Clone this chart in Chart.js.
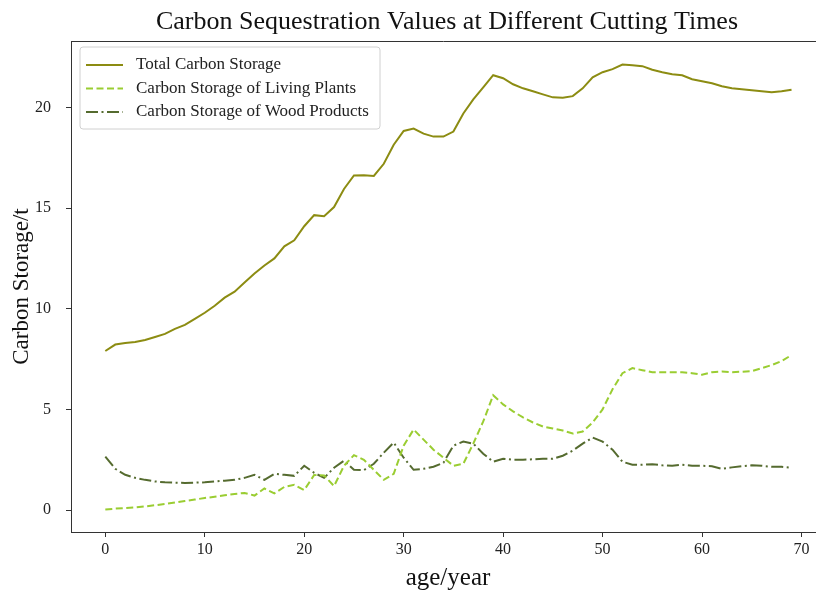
<!DOCTYPE html>
<html>
<head>
<meta charset="utf-8">
<script src="https://cdn.jsdelivr.net/npm/chart.js@4/dist/chart.umd.min.js"></script>
<style>
html,body{margin:0;padding:0;background:#fff;}
#wrap{width:816px;height:592px;position:relative;}
</style>
</head>
<body>
<div id="wrap"><canvas id="c" width="816" height="592"></canvas></div>
<script>
const ages = Array.from({length:70},(_,i)=>i);
const totalStorage = [7.9,8.22,8.3,8.35,8.45,8.6,8.75,9.0,9.2,9.5,9.8,10.15,10.55,10.85,11.3,11.75,12.15,12.5,13.1,13.4,14.1,14.65,14.6,15.05,15.95,16.62,16.63,16.6,17.2,18.15,18.83,18.95,18.7,18.55,18.55,18.8,19.7,20.4,21.0,21.6,21.45,21.15,20.95,20.8,20.65,20.5,20.48,20.56,20.95,21.5,21.75,21.9,22.13,22.1,22.05,21.87,21.75,21.65,21.6,21.4,21.3,21.2,21.05,20.95,20.9,20.85,20.8,20.76,20.8,20.88];
const livingPlants = [0.03,0.07,0.1,0.13,0.18,0.24,0.3,0.38,0.45,0.52,0.6,0.66,0.73,0.8,0.85,0.72,1.07,0.83,1.15,1.25,0.99,1.74,1.72,1.19,2.2,2.73,2.5,2.0,1.5,1.8,3.2,4.0,3.5,3.0,2.6,2.2,2.3,3.3,4.4,5.7,5.25,4.9,4.6,4.35,4.15,4.05,3.95,3.8,3.9,4.35,5.0,6.0,6.8,7.05,6.95,6.85,6.85,6.85,6.85,6.8,6.72,6.85,6.88,6.85,6.87,6.9,7.05,7.2,7.4,7.7];
const woodProducts = [2.65,2.05,1.75,1.6,1.5,1.42,1.38,1.36,1.35,1.36,1.38,1.42,1.46,1.5,1.6,1.75,1.5,1.8,1.75,1.7,2.2,1.85,1.6,2.1,2.45,2.0,1.98,2.3,2.85,3.35,2.6,2.0,2.05,2.15,2.35,3.2,3.4,3.3,2.8,2.4,2.55,2.5,2.5,2.52,2.55,2.55,2.7,2.95,3.3,3.6,3.4,3.0,2.4,2.25,2.25,2.28,2.22,2.2,2.25,2.2,2.2,2.18,2.05,2.12,2.18,2.22,2.2,2.15,2.15,2.1];
const seriesNames = ['Total Carbon Storage','Carbon Storage of Living Plants','Carbon Storage of Wood Products'];
const xTicks = [0,10,20,30,40,50,60,70];
const yTicks = [0,5,10,15,20];
const chartTitle = 'Carbon Sequestration Values at Different Cutting Times';
const xTitle = 'age/year';
const yTitle = 'Carbon Storage/t';

const SERIF = '"Liberation Serif","Times New Roman",serif';
const toPts = arr => arr.map((v,i)=>({x:ages[i],y:v}));

const textPlugin = {
  id:'texts',
  afterDraw(chart){
    const ctx = chart.ctx;
    ctx.save();
    ctx.fillStyle='#111';
    ctx.textAlign='center';
    ctx.textBaseline='middle';
    ctx.font='26px '+SERIF;
    ctx.fillText(chartTitle,447,22);
    ctx.font='25px '+SERIF;
    ctx.fillText(xTitle,448,578);
    ctx.restore();
  }
};
const legendPlugin = {
  id:'innerLegend',
  afterDraw(chart){
    const ctx = chart.ctx;
    const x0=80, y0=47, w=300, h=82;
    ctx.save();
    ctx.fillStyle='rgba(255,255,255,0.8)';
    ctx.strokeStyle='#d0d0d0';
    ctx.lineWidth=1;
    const r=3;
    ctx.beginPath();
    ctx.moveTo(x0+r,y0);ctx.lineTo(x0+w-r,y0);ctx.quadraticCurveTo(x0+w,y0,x0+w,y0+r);
    ctx.lineTo(x0+w,y0+h-r);ctx.quadraticCurveTo(x0+w,y0+h,x0+w-r,y0+h);
    ctx.lineTo(x0+r,y0+h);ctx.quadraticCurveTo(x0,y0+h,x0,y0+h-r);
    ctx.lineTo(x0,y0+r);ctx.quadraticCurveTo(x0,y0,x0+r,y0);
    ctx.closePath();ctx.fill();ctx.stroke();
    chart.data.datasets.forEach((ds,i)=>{
      const yy = y0+18+i*23.5;
      ctx.strokeStyle=ds.borderColor;
      ctx.lineWidth=ds.borderWidth;
      ctx.setLineDash(ds.borderDash||[]);
      ctx.beginPath();ctx.moveTo(86,yy);ctx.lineTo(123,yy);ctx.stroke();
      ctx.setLineDash([]);
      ctx.fillStyle='#222';
      ctx.font='17px '+SERIF;
      ctx.textBaseline='middle';
      ctx.textAlign='left';
      ctx.fillText(ds.label,136,yy);
    });
    ctx.restore();
  }
};
const framePlugin = {
  id:'frame',
  afterDraw(chart){
    const a=chart.chartArea, ctx=chart.ctx;
    ctx.save();
    ctx.strokeStyle='#333';ctx.lineWidth=1;
    ctx.beginPath();
    ctx.moveTo(a.left,a.top+0.5);ctx.lineTo(a.right,a.top+0.5);
    ctx.stroke();
    ctx.restore();
  }
};

new Chart(document.getElementById('c'),{
  type:'line',
  data:{datasets:[
    {label:seriesNames[0],data:toPts(totalStorage),borderColor:'#8c8c12',borderWidth:2,pointRadius:0,tension:0,fill:false},
    {label:seriesNames[1],data:toPts(livingPlants),borderColor:'#9acd32',borderWidth:2,borderDash:[7,3.5],pointRadius:0,tension:0,fill:false},
    {label:seriesNames[2],data:toPts(woodProducts),borderColor:'#556b2f',borderWidth:2,borderDash:[12,3.5,2,3.5],pointRadius:0,tension:0,fill:false}
  ]},
  options:{
    responsive:false,animation:false,
    layout:{padding:{left:0,right:0,top:41,bottom:0}},
    plugins:{legend:{display:false},tooltip:{enabled:false},title:{display:false}},
    scales:{
      x:{type:'linear',min:-3.45,max:71.46,
        afterFit(s){s.height=60;},
        afterBuildTicks(s){s.ticks=xTicks.map(v=>({value:v}));},
        grid:{drawOnChartArea:false,drawTicks:true,tickLength:5,color:'#333',tickColor:'#333'},
        border:{display:true,color:'#333',width:1},
        ticks:{color:'#222',font:{family:SERIF,size:16},padding:3,maxRotation:0,autoSkip:false},
        title:{display:false}
      },
      y:{type:'linear',min:-1.09,max:23.3,
        afterFit(s){s.width=71;},
        afterBuildTicks(s){s.ticks=yTicks.map(v=>({value:v}));},
        grid:{drawOnChartArea:false,drawTicks:true,tickLength:5,color:'#333',tickColor:'#333'},
        border:{display:true,color:'#333',width:1},
        ticks:{color:'#222',font:{family:SERIF,size:16},padding:15},
        title:{display:true,text:yTitle,color:'#111',font:{family:SERIF,size:23},padding:{top:8,bottom:0}}
      }
    }
  },
  plugins:[framePlugin,legendPlugin,textPlugin]
});
</script>
</body>
</html>
